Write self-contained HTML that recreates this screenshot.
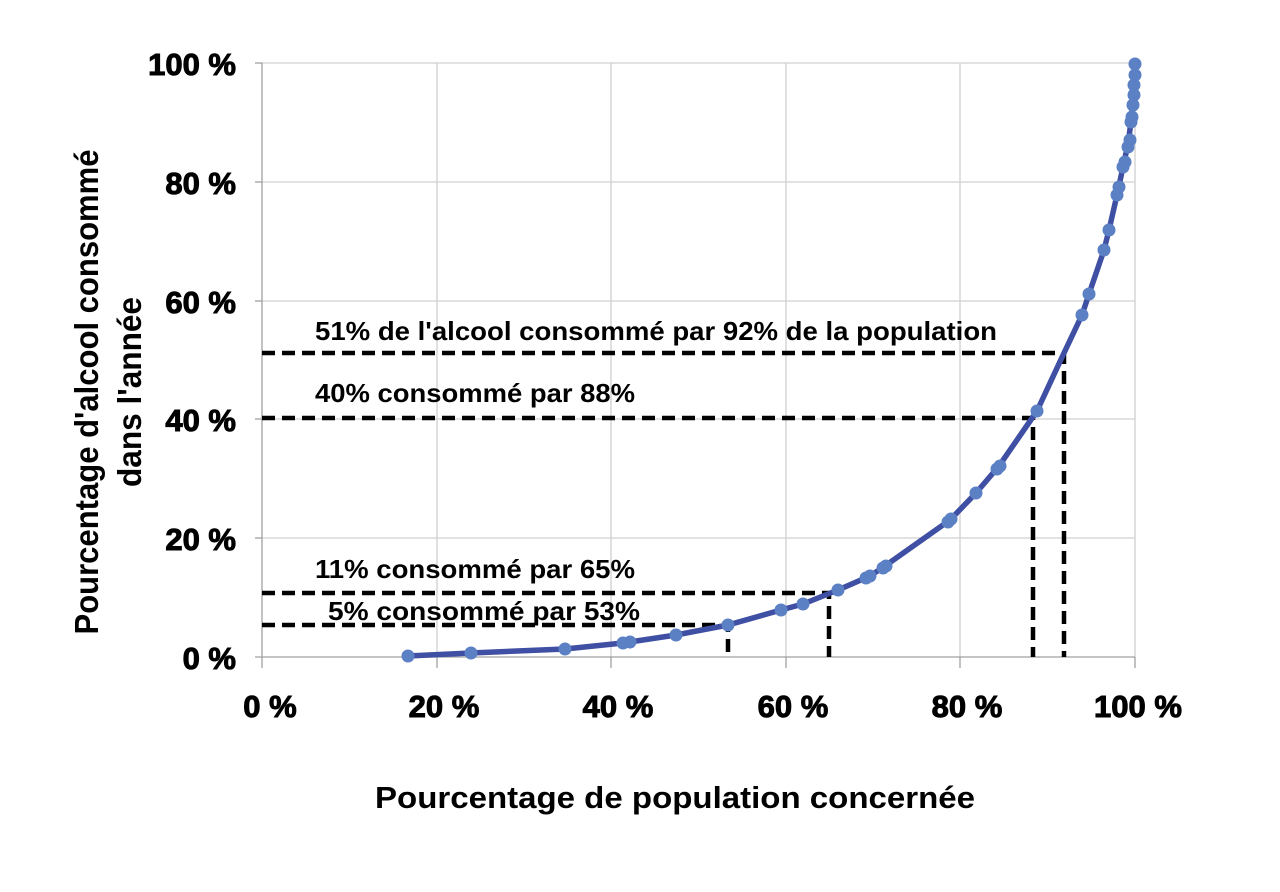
<!DOCTYPE html>
<html><head><meta charset="utf-8"><style>body{margin:0;background:#fff}svg{display:block}</style></head>
<body>
<svg width="1280" height="892" viewBox="0 0 1280 892" font-family="Liberation Sans, Arial, sans-serif">
<g stroke="#d0d0d0" stroke-width="1.3">
<line x1="262" y1="63" x2="1135" y2="63"/><line x1="262" y1="182" x2="1135" y2="182"/><line x1="262" y1="301" x2="1135" y2="301"/><line x1="262" y1="419" x2="1135" y2="419"/><line x1="262" y1="538" x2="1135" y2="538"/>
<line x1="437" y1="63" x2="437" y2="657"/><line x1="611" y1="63" x2="611" y2="657"/><line x1="786" y1="63" x2="786" y2="657"/><line x1="960" y1="63" x2="960" y2="657"/><line x1="1135" y1="63" x2="1135" y2="657"/>
</g>
<g stroke="#a0a0a0" stroke-width="1.3">
<line x1="262" y1="63" x2="262" y2="668"/><line x1="255" y1="657" x2="1135" y2="657"/>
<line x1="255" y1="63" x2="262" y2="63"/><line x1="255" y1="182" x2="262" y2="182"/><line x1="255" y1="301" x2="262" y2="301"/><line x1="255" y1="419" x2="262" y2="419"/><line x1="255" y1="538" x2="262" y2="538"/>
<line x1="437" y1="657" x2="437" y2="668"/><line x1="611" y1="657" x2="611" y2="668"/><line x1="786" y1="657" x2="786" y2="668"/><line x1="960" y1="657" x2="960" y2="668"/><line x1="1135" y1="657" x2="1135" y2="668"/>
</g>
<g stroke="#000" stroke-width="4.5" stroke-dasharray="13,7" fill="none">
<path d="M262 353H1064V657"/><path d="M262 418H1033V657"/><path d="M262 593H829V657"/><path d="M262 625H728V657"/>
</g>
<path d="M408 656 L471 653 L565 649 L623 643 L676 635 L728 625 L781 610 L803 604 L838 590 L870 576 L885 566 L950 520 L976 493 L999 466 L1037 411 L1064 353 L1082 315 L1089 294 L1104 250 L1109 230 L1117 195 L1123 167 L1128 144 L1131 122 L1133 100 L1134 85 L1135 63" fill="none" stroke="#3f4fa3" stroke-width="5.5" stroke-linejoin="round"/>
<g fill="#5b80c4">
<circle cx="408" cy="656" r="6.5"/><circle cx="471" cy="653" r="6.5"/><circle cx="565" cy="649" r="6.5"/><circle cx="623" cy="643" r="6.5"/><circle cx="630" cy="642" r="6.5"/><circle cx="676" cy="635" r="6.5"/><circle cx="728" cy="625" r="6.5"/><circle cx="781" cy="610" r="6.5"/><circle cx="803" cy="604" r="6.5"/><circle cx="838" cy="590" r="6.5"/><circle cx="866" cy="578" r="6.5"/><circle cx="870" cy="576" r="6.5"/><circle cx="883" cy="568" r="6.5"/><circle cx="886" cy="566" r="6.5"/><circle cx="948" cy="522" r="6.5"/><circle cx="951" cy="519" r="6.5"/><circle cx="976" cy="493" r="6.5"/><circle cx="997" cy="469" r="6.5"/><circle cx="1000" cy="466" r="6.5"/><circle cx="1037" cy="411" r="6.5"/><circle cx="1082" cy="315" r="6.5"/><circle cx="1089" cy="294" r="6.5"/><circle cx="1104" cy="250" r="6.5"/><circle cx="1109" cy="230" r="6.5"/><circle cx="1117" cy="195" r="6.5"/><circle cx="1119" cy="187" r="6.5"/><circle cx="1123" cy="167" r="6.5"/><circle cx="1125" cy="162" r="6.5"/><circle cx="1128" cy="147" r="6.5"/><circle cx="1130" cy="140" r="6.5"/><circle cx="1131" cy="122" r="6.5"/><circle cx="1132" cy="117" r="6.5"/><circle cx="1133" cy="105" r="6.5"/><circle cx="1134" cy="95" r="6.5"/><circle cx="1134" cy="85" r="6.5"/><circle cx="1135" cy="75" r="6.5"/><circle cx="1135" cy="64" r="6.5"/>
</g>
<g font-weight="900" font-size="31" fill="#000" stroke="#000" stroke-width="1" text-anchor="end">
<text x="236" y="75">100 %</text><text x="236" y="194">80 %</text><text x="236" y="313">60 %</text><text x="236" y="431">40 %</text><text x="236" y="550">20 %</text><text x="236" y="669">0 %</text>
</g>
<g font-weight="900" font-size="31" fill="#000" stroke="#000" stroke-width="1" text-anchor="middle">
<text x="270" y="717">0 %</text><text x="444" y="717">20 %</text><text x="618" y="717">40 %</text><text x="793" y="717">60 %</text><text x="967" y="717">80 %</text><text x="1138" y="717">100 %</text>
</g>
<g font-weight="bold" font-size="26" fill="#000">
<text x="315" y="340" textLength="682" lengthAdjust="spacingAndGlyphs">51% de l'alcool consommé par 92% de la population</text>
<text x="315" y="402" textLength="320" lengthAdjust="spacingAndGlyphs">40% consommé par 88%</text>
<text x="315" y="578" textLength="320" lengthAdjust="spacingAndGlyphs">11% consommé par 65%</text>
<text x="328" y="620" textLength="312" lengthAdjust="spacingAndGlyphs">5%  consommé par 53%</text>
</g>
<text x="675" y="808" font-weight="bold" font-size="31" text-anchor="middle" textLength="600" lengthAdjust="spacingAndGlyphs">Pourcentage de population concernée</text>
<g font-weight="bold" font-size="33" text-anchor="middle">
<text transform="translate(98,392) rotate(-90)" textLength="485" lengthAdjust="spacingAndGlyphs">Pourcentage d'alcool consommé</text>
<text transform="translate(141,392) rotate(-90)" textLength="190" lengthAdjust="spacingAndGlyphs">dans l'année</text>
</g>
</svg>
</body></html>
